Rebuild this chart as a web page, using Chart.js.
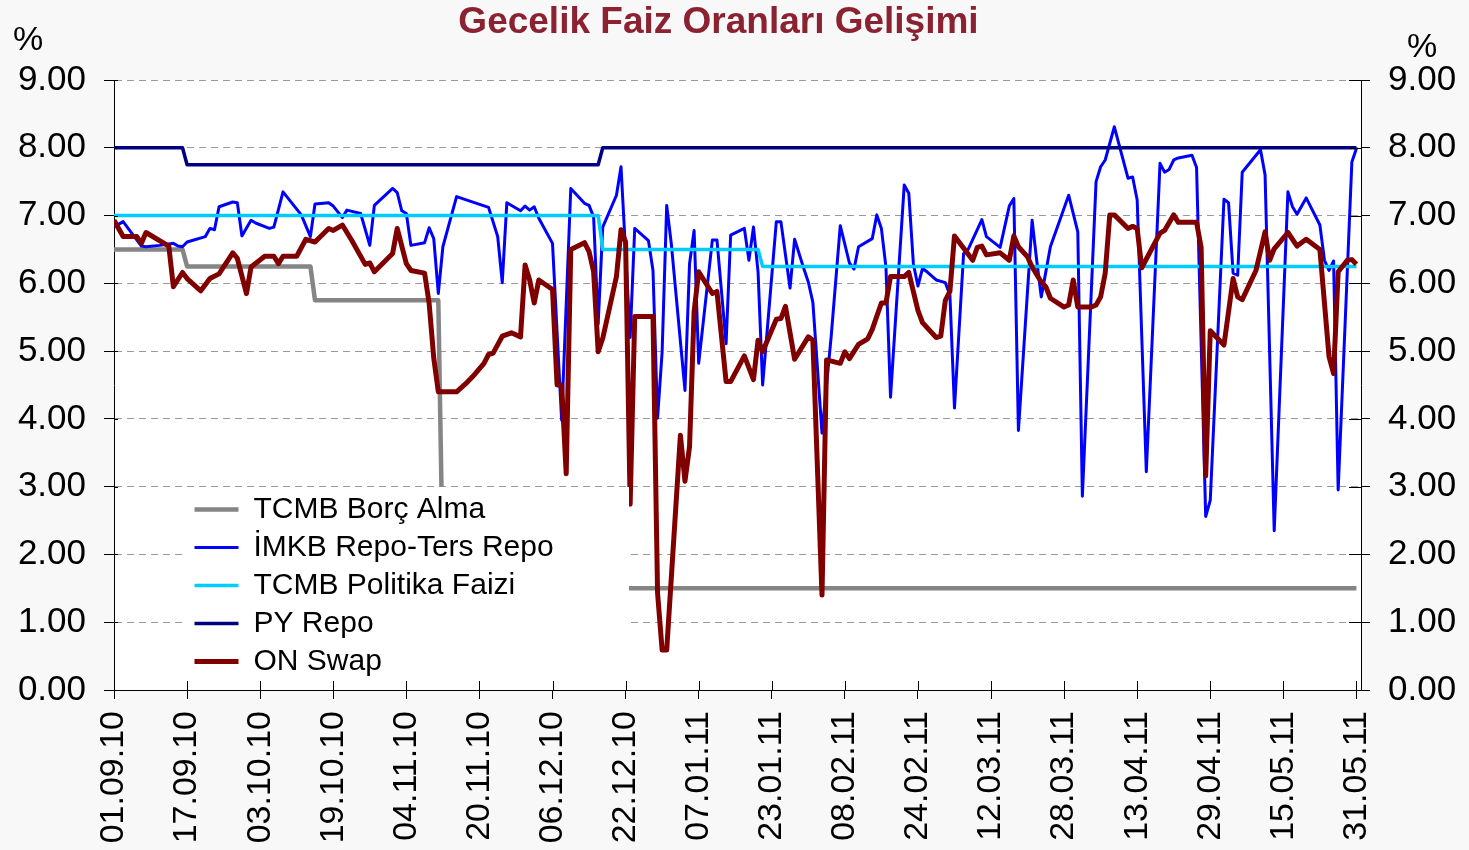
<!DOCTYPE html>
<html>
<head>
<meta charset="utf-8">
<script src="https://cdn.jsdelivr.net/npm/chart.js@4.4.1/dist/chart.umd.min.js"></script>
<style>
html,body{margin:0;padding:0;background:#f8f8f8;}
canvas{display:block;}
</style>
</head>
<body>
<canvas id="c" width="1469" height="850"></canvas>
<script>
// ---- data (x = day offset from 01.09.10, y = %) ----
const tickLabels = ['01.09.10','17.09.10','03.10.10','19.10.10','04.11.10','20.11.10','06.12.10','22.12.10','07.01.11','23.01.11','08.02.11','24.02.11','12.03.11','28.03.11','13.04.11','29.04.11','15.05.11','31.05.11'];
const tickStep = 16;
const yTickValues = [0,1,2,3,4,5,6,7,8,9];

const borcAlma = [[0,6.5],[15,6.5],[16,6.25],[43,6.25],[44,5.75],[71,5.75],[72,1.75],[106,1.75],[107,1.5],[272,1.5]];

const politikaFaizi = [[0,7],[106,7],[107,6.5],[141,6.5],[142,6.25],[272,6.25]];

const pyRepo = [[0,8],[15,8],[16,7.75],[106,7.75],[107,8],[272,8]];

const imkbRepo = [[0,6.83],[2,6.91],[6,6.55],[7,6.54],[10,6.56],[13,6.59],[14,6.55],[15,6.54],[16,6.61],[20,6.69],[21,6.81],[22,6.79],[23,7.13],[26,7.20],[27,7.19],[28,6.70],[30,6.93],[31,6.89],[34,6.81],[35,6.83],[37,7.35],[41,7.01],[43,6.69],[44,7.17],[47,7.19],[48,7.14],[50,6.97],[51,7.08],[54,7.03],[56,6.56],[57,7.15],[61,7.40],[62,7.34],[63,7.07],[64,7.03],[65,6.56],[68,6.60],[69,6.82],[70,6.66],[71,5.85],[72,6.54],[75,7.28],[82,7.12],[84,6.69],[85,6.01],[86,7.19],[89,7.07],[90,7.14],[91,7.08],[92,7.13],[93,6.96],[96,6.59],[98,3.98],[100,7.40],[103,7.18],[104,7.15],[105,6.98],[106,5.40],[107,6.83],[110,7.30],[111,7.72],[113,5.20],[114,6.81],[117,6.63],[118,6.19],[119,4.01],[120,4.99],[121,7.15],[122,6.59],[125,4.42],[126,6.29],[127,6.78],[128,4.82],[131,6.64],[132,6.64],[134,5.11],[135,6.71],[138,6.81],[139,6.34],[140,6.83],[141,6.17],[142,4.50],[145,6.91],[146,6.91],[148,5.93],[149,6.65],[151,6.22],[152,6.02],[153,5.72],[155,3.79],[157,5.21],[159,6.85],[161,6.30],[162,6.21],[163,6.54],[166,6.66],[167,7.01],[168,6.81],[169,6.24],[170,4.32],[173,7.45],[174,7.33],[175,6.29],[176,5.96],[177,6.22],[178,6.17],[180,6.05],[182,6.01],[183,5.83],[184,4.16],[186,6.44],[187,6.50],[190,6.94],[191,6.69],[194,6.53],[196,7.14],[197,7.25],[198,3.83],[201,6.93],[202,6.34],[203,5.80],[205,6.54],[209,7.30],[211,6.76],[212,2.86],[215,7.50],[216,7.72],[217,7.82],[219,8.31],[222,7.55],[223,7.57],[224,7.23],[226,3.22],[229,7.77],[230,7.64],[231,7.68],[232,7.82],[233,7.85],[236,7.89],[237,7.71],[239,2.56],[240,2.80],[243,7.24],[244,7.19],[245,6.15],[246,6.12],[247,7.64],[251,7.97],[252,7.60],[254,2.35],[257,7.35],[258,7.13],[259,7.02],[261,7.26],[264,6.86],[265,6.34],[266,6.19],[267,6.33],[268,2.95],[271,7.79],[272,7.99]];

const onSwap = [[0,6.93],[2,6.69],[5,6.69],[6,6.59],[7,6.75],[12,6.55],[13,5.95],[15,6.16],[16,6.07],[19,5.89],[21,6.07],[23,6.14],[26,6.45],[27,6.37],[29,5.85],[30,6.24],[33,6.40],[35,6.40],[36,6.29],[37,6.40],[40,6.40],[42,6.65],[44,6.61],[47,6.81],[48,6.78],[50,6.86],[52,6.64],[55,6.28],[56,6.30],[57,6.17],[61,6.44],[62,6.81],[64,6.29],[65,6.19],[68,6.15],[69,5.70],[70,4.90],[71,4.40],[75,4.40],[77,4.52],[79,4.66],[81,4.82],[82,4.95],[83,4.97],[85,5.22],[87,5.27],[89,5.21],[90,6.27],[91,6.05],[92,5.71],[93,6.05],[96,5.91],[97,4.50],[98,4.50],[99,3.19],[100,6.50],[103,6.60],[104,6.47],[105,6.17],[106,4.99],[107,5.19],[110,6.10],[111,6.79],[112,6.61],[113,2.74],[114,5.51],[118,5.51],[119,1.43],[120,0.59],[121,0.59],[124,3.76],[125,3.08],[126,3.59],[127,5.58],[128,6.17],[131,5.85],[132,5.88],[134,4.55],[135,4.55],[138,4.93],[140,4.58],[141,5.16],[142,4.99],[145,5.47],[146,5.48],[147,5.66],[149,4.88],[152,5.21],[153,5.16],[155,1.40],[156,4.87],[159,4.82],[160,4.99],[161,4.89],[163,5.10],[165,5.18],[166,5.32],[168,5.71],[169,5.71],[170,6.10],[173,6.10],[174,6.16],[176,5.60],[177,5.42],[180,5.20],[181,5.22],[182,5.75],[183,5.88],[184,6.70],[188,6.34],[189,6.53],[190,6.55],[191,6.42],[194,6.45],[196,6.34],[197,6.70],[198,6.54],[200,6.39],[201,6.24],[203,6.02],[204,5.95],[205,5.78],[208,5.65],[209,5.68],[210,6.05],[211,5.65],[214,5.65],[215,5.68],[216,5.80],[217,6.15],[218,7.01],[219,7.01],[222,6.81],[223,6.84],[224,6.81],[225,6.23],[229,6.74],[230,6.78],[232,7.01],[233,6.90],[237,6.90],[238,6.53],[239,3.16],[240,5.30],[243,5.09],[245,6.07],[246,5.80],[247,5.76],[250,6.19],[252,6.76],[253,6.34],[254,6.51],[257,6.75],[259,6.55],[261,6.65],[264,6.50],[266,4.92],[267,4.67],[268,6.17],[270,6.34],[271,6.35],[272,6.28]];

// ---- chart ----
const FONT = "'Liberation Sans', Arial, Helvetica, sans-serif";
Chart.defaults.font.family = FONT;
Chart.defaults.color = '#000';

function pts(a){ return a.map(p => ({x: p[0], y: p[1]})); }
function series(label, arr, color, w, order){
  return {label, data: pts(arr), borderColor: color, backgroundColor: color,
    borderWidth: w, pointRadius: 0, pointHoverRadius: 0, pointBorderWidth: w,
    pointBorderColor: color, pointBackgroundColor: color, pointStyle: 'line',
    tension: 0, borderJoinStyle: 'round', borderCapStyle: 'butt', fill: false, order};
}

const LEGEND_BOX = {left: 186, top: 487, right: 629, bottom: 684};

const deco = {
  id: 'deco',
  beforeDraw(chart){
    const {ctx, chartArea: a} = chart;
    ctx.save();
    ctx.fillStyle = '#f8f8f8';
    ctx.fillRect(0, 0, chart.width, chart.height);
    ctx.fillStyle = '#ffffff';
    ctx.fillRect(a.left, a.top, a.right - a.left, a.bottom - a.top);
    ctx.fillStyle = '#000';
    ctx.font = "34px " + FONT;
    ctx.textAlign = 'center';
    ctx.textBaseline = 'middle';
    ctx.fillText('%', 28, 41);
    ctx.fillText('%', 1422, 48);
    ctx.restore();
  },
  afterLayout(chart){
    const lg = chart.legend;
    if (lg){
      lg.left = 186.5; lg.top = 486.5;
      lg.right = chart.width; lg.bottom = chart.height;
    }
    const t = chart.titleBlock;
    if (t){ t.left -= 16; t.right -= 16; }
  },
  afterDatasetsDraw(chart){
    const {ctx, chartArea: a} = chart;
    ctx.save();
    ctx.fillStyle = '#ffffff';
    ctx.fillRect(LEGEND_BOX.left, LEGEND_BOX.top, LEGEND_BOX.right - LEGEND_BOX.left, LEGEND_BOX.bottom - LEGEND_BOX.top);
    ctx.restore();
    chart.legend.draw(a);
    // inner tick marks crossing the axes
    ctx.save();
    ctx.strokeStyle = '#000';
    ctx.lineWidth = 1;
    ctx.beginPath();
    const xs = chart.scales.x;
    xs.ticks.forEach(t => { const px = Math.round(xs.getPixelForValue(t.value)) + 0.5; ctx.moveTo(px, a.bottom); ctx.lineTo(px, a.bottom - 9); });
    const ys = chart.scales.y2;
    ys.ticks.forEach(t => { const py = Math.round(ys.getPixelForValue(t.value)) + 0.5; ctx.moveTo(a.right, py); ctx.lineTo(a.right - 12, py); });
    const yl = chart.scales.y;
    yl.ticks.forEach(t => { const py = Math.round(yl.getPixelForValue(t.value)) + 0.5; ctx.moveTo(a.left, py); ctx.lineTo(a.left + 4, py); });
    ctx.stroke();
    ctx.restore();
  }
};

const yTickOpts = {
  padding: 18, color: '#000', font: {size: 35, family: FONT},
  callback: v => Number(v).toFixed(2)
};

new Chart(document.getElementById('c'), {
  type: 'line',
  data: {
    datasets: [
      series('TCMB Borç Alma', borcAlma, '#858585', 4.5, 5),
      series('İMKB Repo-Ters Repo', imkbRepo, '#0000ff', 3, 4),
      series('TCMB Politika Faizi', politikaFaizi, '#00ccff', 3.5, 3),
      series('PY Repo', pyRepo, '#000080', 3.5, 2),
      series('ON Swap', onSwap, '#800000', 5, 1)
    ]
  },
  options: {
    responsive: false,
    animation: false,
    events: [],
    layout: {padding: 0},
    plugins: {
      title: {
        display: true, text: 'Gecelik Faiz Oranları Gelişimi', color: '#8b2232',
        font: {family: FONT, size: 37, weight: 'bold', lineHeight: 1.2},
        padding: {top: 1, bottom: 34.6}
      },
      legend: {
        display: true, position: 'chartArea', align: 'start',
        labels: {
          usePointStyle: true, pointStyle: 'line', pointStyleWidth: 44, padding: 8,
          color: '#000', font: {family: FONT, size: 30},
          sort: (a, b) => a.datasetIndex - b.datasetIndex
        }
      },
      tooltip: {enabled: false}
    },
    scales: {
      x: {
        type: 'linear', min: 0, max: 273,
        afterBuildTicks: s => { s.ticks = tickLabels.map((_, i) => ({value: i * tickStep})); },
        afterFit: s => { s.height = 160; },
        ticks: {
          autoSkip: false, minRotation: 90, maxRotation: 90, padding: 12,
          color: '#000', font: {size: 34, family: FONT},
          callback: v => tickLabels[Math.round(v / tickStep)]
        },
        grid: {drawOnChartArea: false, drawTicks: true, tickLength: 9, tickColor: '#000'},
        border: {display: true, color: '#000', width: 1}
      },
      y: {
        position: 'left', min: 0, max: 9,
        afterBuildTicks: s => { s.ticks = yTickValues.map(v => ({value: v})); },
        afterFit: s => { s.width = 114; },
        ticks: yTickOpts,
        grid: {drawOnChartArea: true, color: '#9a9a9a', lineWidth: 1, drawTicks: true, tickLength: 10, tickColor: '#000'},
        border: {display: true, color: '#000', width: 1, dash: [7, 5]}
      },
      y2: {
        position: 'right', min: 0, max: 9,
        afterBuildTicks: s => { s.ticks = yTickValues.map(v => ({value: v})); },
        afterFit: s => { s.width = 108; },
        ticks: yTickOpts,
        grid: {drawOnChartArea: false, drawTicks: true, tickLength: 9, tickColor: '#000'},
        border: {display: true, color: '#000', width: 1}
      }
    }
  },
  plugins: [deco]
});
</script>
</body>
</html>
